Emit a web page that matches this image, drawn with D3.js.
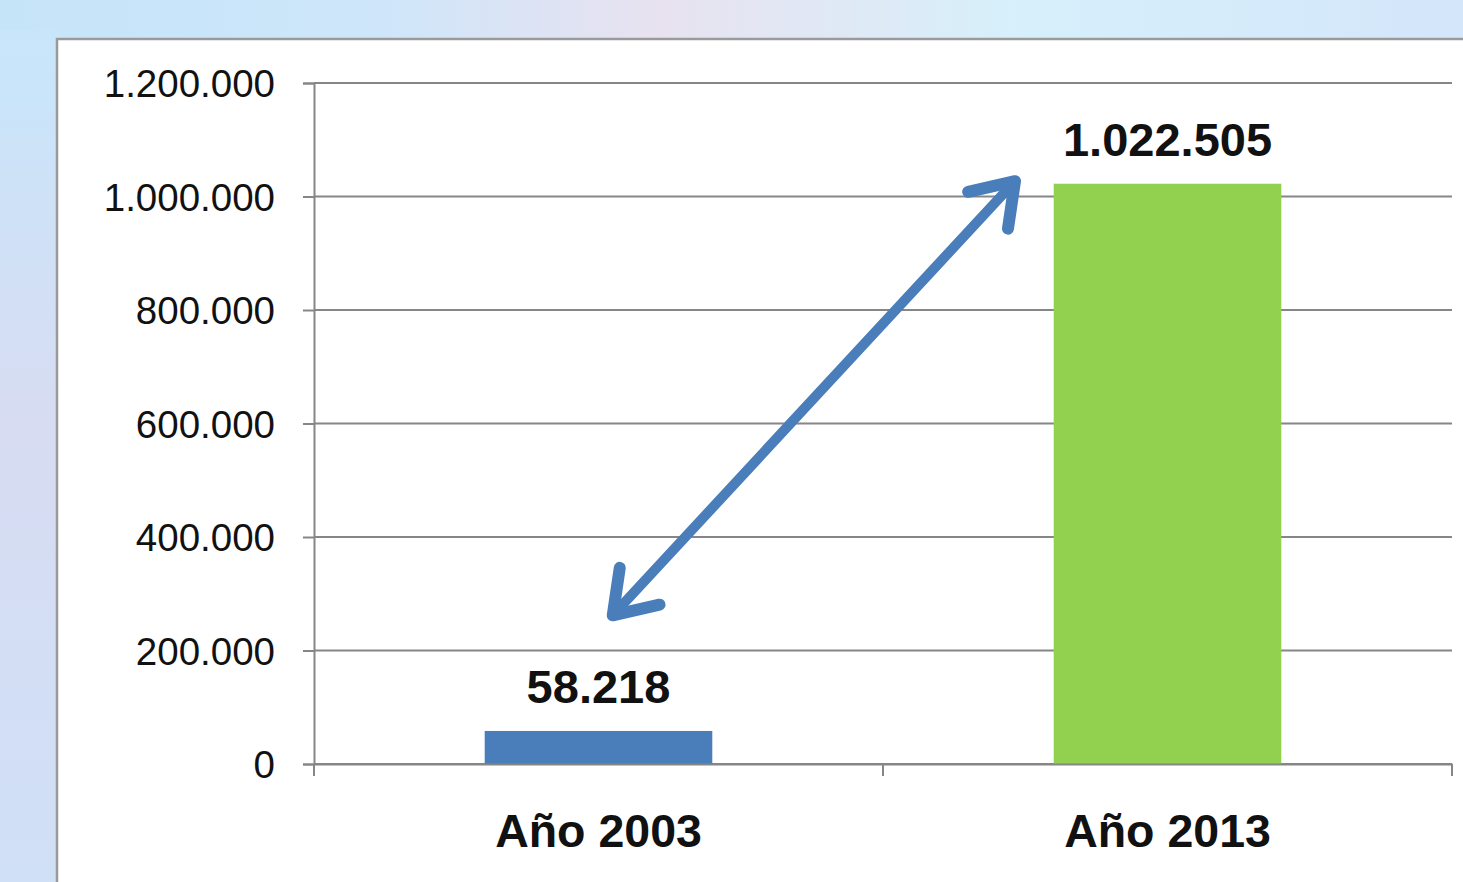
<html>
<head>
<meta charset="utf-8">
<script src="https://cdn.jsdelivr.net/npm/d3@7"></script>
<style>
  body { margin: 0; overflow: hidden; }
  text { font-family: "Liberation Sans", Arial, sans-serif; }
</style>
</head>
<body>
<script>
  // chart data
  var categories = ["Año 2003", "Año 2013"];
  var values = [58218, 1022505];
  var valueLabels = ["58.218", "1.022.505"];
  var barColors = ["#4a7ebb", "#92d050"];
  var yTicks = [0, 200000, 400000, 600000, 800000, 1000000, 1200000];
  // double arrow, in [category position, value]
  var arrowFrom = [0.525, 262000];
  var arrowTo = [1.232, 1027000];

  var W = 1463, H = 882;
  var svg = d3.select("body").append("svg").attr("width", W).attr("height", H);
  var defs = svg.append("defs");

  // soft background
  var bg = defs.append("linearGradient").attr("id", "bg").attr("x1", 0).attr("y1", 0).attr("x2", 1).attr("y2", 0);
  bg.append("stop").attr("offset", "0").attr("stop-color", "#c6e4f8");
  bg.append("stop").attr("offset", "0.25").attr("stop-color", "#cde6fa");
  bg.append("stop").attr("offset", "0.45").attr("stop-color", "#e8e2f0");
  bg.append("stop").attr("offset", "0.7").attr("stop-color", "#d6f0fb");
  bg.append("stop").attr("offset", "1").attr("stop-color", "#d4e6fa");
  svg.append("rect").attr("width", W).attr("height", H).attr("fill", "url(#bg)");
  var side = defs.append("linearGradient").attr("id", "side").attr("x1", 0).attr("y1", 0).attr("x2", 0).attr("y2", 1);
  side.append("stop").attr("offset", "0").attr("stop-color", "#c8e6fb");
  side.append("stop").attr("offset", "0.45").attr("stop-color", "#d7dcf2");
  side.append("stop").attr("offset", "1").attr("stop-color", "#cfe0f7");
  svg.append("rect").attr("width", 60).attr("y", 30).attr("height", H).attr("fill", "url(#side)");

  // white panel
  svg.append("rect").attr("x", 57).attr("y", 39).attr("width", W).attr("height", H)
     .attr("fill", "#fff").attr("stroke", "#9a9a9a").attr("stroke-width", 2.5);

  var plotL = 314, plotR = 1452, plotT = 83, plotB = 764;

  var y = d3.scaleLinear().domain([0, 1200000]).range([plotB, plotT]);
  var x = d3.scaleBand().domain(categories).range([plotL, plotR]).paddingInner(0).paddingOuter(0);
  var xPos = d3.scaleLinear().domain([0, categories.length]).range([plotL, plotR]);
  var barW = x.bandwidth() * 0.4;

  var fmt = function (d) { return d3.format(",")(d).replace(/,/g, "."); };

  // y axis with gridlines
  var yAxis = svg.append("g").attr("transform", "translate(" + plotL + ",0)")
    .call(d3.axisLeft(y).tickValues(yTicks).tickSize(11).tickPadding(28).tickFormat(fmt));
  yAxis.select(".domain").attr("stroke", "#868686").attr("stroke-width", 2);
  yAxis.selectAll(".tick line").attr("stroke", "#868686").attr("stroke-width", 2);
  yAxis.selectAll(".tick text").attr("fill", "#111").style("font-size", "38.5px")
       .style("font-family", "'Liberation Sans', Arial, sans-serif").attr("dy", "0.36em");

  svg.append("g").selectAll("line").data(yTicks).enter().append("line")
     .attr("x1", plotL).attr("x2", plotR)
     .attr("y1", function (d) { return y(d); }).attr("y2", function (d) { return y(d); })
     .attr("stroke", "#868686").attr("stroke-width", 2);

  // bars
  svg.append("g").selectAll("rect").data(values).enter().append("rect")
     .attr("x", function (d, i) { return x(categories[i]) + x.bandwidth() / 2 - barW / 2; })
     .attr("y", function (d) { return y(d); })
     .attr("width", barW)
     .attr("height", function (d) { return y(0) - y(d); })
     .attr("fill", function (d, i) { return barColors[i]; });

  // x axis
  var xAxis = svg.append("g").attr("transform", "translate(0," + plotB + ")")
    .call(d3.axisBottom(x).tickSize(0).tickPadding(50));
  xAxis.select(".domain").attr("stroke", "#868686").attr("stroke-width", 2);
  xAxis.selectAll(".tick text").attr("fill", "#111").style("font-size", "46.5px")
       .style("font-weight", "bold").attr("dy", "0.71em")
       .style("font-family", "'Liberation Sans', Arial, sans-serif");
  svg.append("g").selectAll("line").data(d3.range(categories.length + 1)).enter().append("line")
     .attr("x1", function (d) { return xPos(d); }).attr("x2", function (d) { return xPos(d); })
     .attr("y1", plotB).attr("y2", plotB + 12)
     .attr("stroke", "#868686").attr("stroke-width", 2);

  // value labels
  svg.append("g").selectAll("text").data(values).enter().append("text")
     .attr("x", function (d, i) { return x(categories[i]) + x.bandwidth() / 2; })
     .attr("y", function (d) { return y(d) - 28; })
     .attr("text-anchor", "middle")
     .style("font-size", "47px").style("font-weight", "bold").attr("fill", "#111")
     .text(function (d, i) { return valueLabels[i]; });

  // double arrow
  var ax1 = xPos(arrowFrom[0]), ay1 = y(arrowFrom[1]);
  var ax2 = xPos(arrowTo[0]), ay2 = y(arrowTo[1]);
  var ang = Math.atan2(ay2 - ay1, ax2 - ax1);
  var head = 48, spread = 0.6;
  function chevron(tx, ty, a) {
    return [[tx - head * Math.cos(a - spread), ty - head * Math.sin(a - spread)],
            [tx, ty],
            [tx - head * Math.cos(a + spread), ty - head * Math.sin(a + spread)]];
  }
  var arrow = svg.append("g").attr("stroke", "#4a7ebb").attr("fill", "none")
     .attr("stroke-linecap", "round").attr("stroke-linejoin", "round");
  arrow.append("line").attr("stroke-width", 10)
     .attr("x1", ax1 + 6 * Math.cos(ang)).attr("y1", ay1 + 6 * Math.sin(ang))
     .attr("x2", ax2 - 6 * Math.cos(ang)).attr("y2", ay2 - 6 * Math.sin(ang));
  arrow.append("path").attr("stroke-width", 12).attr("d", d3.line()(chevron(ax2, ay2, ang)));
  arrow.append("path").attr("stroke-width", 12).attr("d", d3.line()(chevron(ax1, ay1, ang + Math.PI)));
</script>
</body>
</html>
